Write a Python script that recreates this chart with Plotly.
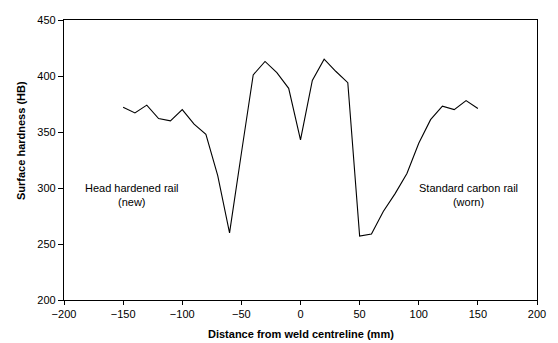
import plotly.graph_objects as go

distance_mm = [-150, -140, -130, -120, -110, -100, -90, -80, -70, -60, -50, -40, -30, -20, -10,
               0, 10, 20, 30, 40, 50, 60, 70, 80, 90, 100, 110, 120, 130, 140, 150]
hardness_hb = [372, 367, 374, 362, 360, 370, 357, 348, 311, 260, 331, 401, 413, 403, 389,
               343, 396, 415, 404, 394, 257, 259, 279, 295, 313, 340, 361, 373, 370, 378, 371]

x_ticks = [-200, -150, -100, -50, 0, 50, 100, 150, 200]
y_ticks = [200, 250, 300, 350, 400, 450]

FONT = "Liberation Sans, Arial, sans-serif"

fig = go.Figure()
fig.add_trace(go.Scatter(x=distance_mm, y=hardness_hb, mode="lines",
                         line=dict(color="black", width=1.1), showlegend=False))

fig.update_layout(
    width=558, height=343,
    margin=dict(l=64, r=16, t=20, b=43),
    paper_bgcolor="white", plot_bgcolor="white",
    font=dict(family=FONT, size=11, color="black"),
    xaxis=dict(range=[-200, 200], tickvals=x_ticks, ticks="outside", ticklen=4,
               tickcolor="black", showgrid=False, zeroline=False,
               showline=True, linecolor="black", linewidth=1.3, mirror=True,
               tickfont=dict(family=FONT, size=11)),
    yaxis=dict(range=[200, 450], tickvals=y_ticks, ticks="outside", ticklen=5,
               tickcolor="black", showgrid=False, zeroline=False,
               showline=True, linecolor="black", linewidth=1.3, mirror=True,
               tickfont=dict(family=FONT, size=11)),
    annotations=[
        dict(text="<b>Distance from weld centreline (mm)</b>", xref="paper", yref="paper",
             x=0.5, y=-0.1214, xanchor="center", yanchor="middle", showarrow=False,
             font=dict(family=FONT, size=11)),
        dict(text="<b>Surface hardness (HB)</b>", xref="paper", yref="paper",
             x=-0.092, y=0.5696, xanchor="center", yanchor="middle", textangle=-90,
             showarrow=False, font=dict(family=FONT, size=11)),
        dict(text="Head hardened rail<br>(new)", xref="x", yref="y",
             x=-142.5, y=293.5, xanchor="center", yanchor="middle", showarrow=False,
             font=dict(family=FONT, size=11)),
        dict(text="Standard carbon rail<br>(worn)", xref="x", yref="y",
             x=142.3, y=293.5, xanchor="center", yanchor="middle", showarrow=False,
             font=dict(family=FONT, size=11)),
    ],
)

fig.write_html("out.html")
